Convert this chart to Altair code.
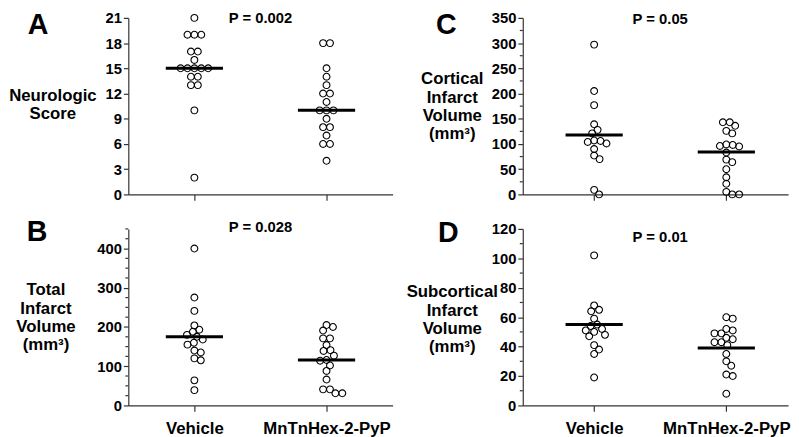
import altair as alt
import pandas as pd

FONT = "Liberation Sans"

# ---------------- data ----------------
groups = ["Vehicle", "MnTnHex-2-PyP"]
panel_letters = ["A", "B", "C", "D"]
p_texts = ["P = 0.002", "P = 0.028", "P = 0.05", "P = 0.01"]

neuro_vehicle = [21, 19, 19, 19, 17, 17, 16, 15, 15, 15, 15, 15, 14, 14, 13, 13, 10, 2]
neuro_mntn = [18, 18, 15, 14, 13, 12, 12, 11, 10, 10, 10, 9, 8, 8, 7, 6, 6, 4]

total_vehicle = [400, 275, 241, 204, 193, 188, 180, 175, 168, 160, 155, 140, 135, 120, 115, 64, 39]
total_mntn = [205, 200, 191, 171, 171, 154, 141, 139, 127, 116, 114, 102, 88, 66, 41, 41, 31, 31]

cortical_vehicle = [297, 205, 177, 139, 128, 121, 107, 106, 104, 101, 90, 77, 70, 9, 0]
cortical_mntn = [143, 143, 136, 126, 121, 99, 98, 96, 95, 83, 69, 64, 50, 34, 21, 5, 0, 0]

subcort_vehicle = [102, 68, 65, 64, 59, 55, 54, 52, 51, 50, 48, 47, 41, 38, 35, 19]
subcort_mntn = [60, 59, 52, 51, 49, 49, 46, 45, 43, 43, 41, 35, 30, 27, 21, 20, 8]

# central bar (median / mean) of each group
neuro_center = [15, 10]
total_center = [175, 116]
cortical_center = [118, 84]
subcort_center = [55, 39]

y_titles = [
    ["Neurologic", "Score"],
    ["Total", "Infarct", "Volume", "(mm³)"],
    ["Cortical", "Infarct", "Volume", "(mm³)"],
    ["Subcortical", "Infarct", "Volume", "(mm³)"],
]

# ---------------- helpers ----------------
PANEL_H = 179
PX_PER_X = 134.0  # pixels per x unit (category spacing)
AXIS_COLOR = "#333333"


def swarm(vals, ymax, dmin=6.5, row_gap=7.0):
    """Simple beeswarm: return x offsets in data units."""
    ppu = PANEL_H / ymax
    n = len(vals)
    idx = sorted(range(n), key=lambda k: -vals[k])
    offs = [0.0] * n
    placed = []
    i = 0
    while i < n:
        j = i
        while j < n and vals[idx[j]] == vals[idx[i]]:
            j += 1
        k = j - i
        ypx = vals[idx[i]] * ppu
        base = [(m - (k - 1) / 2) * row_gap for m in range(k)]
        chosen = 0.0
        found = False
        for step in range(0, 40):
            for sgn in ([1] if step == 0 else [1, -1]):
                sh = sgn * step * 0.5
                ok = all(((ypx - py) ** 2 + (b + sh - px) ** 2) ** 0.5 >= dmin
                         for b in base for (py, px) in placed)
                if ok:
                    chosen = sh
                    found = True
                    break
            if found:
                break
        for m in range(k):
            o = base[m] + chosen
            offs[idx[i + m]] = o / PX_PER_X
            placed.append((ypx, o))
        i = j
    return offs


def panel(letter, ptext, vv, vm, centers, ymax, major, minor, title, title_x, title_y,
          xdom, width, show_labels, letter_xy, p_dy):
    pos = [0.5, 1.5]
    rows = []
    for g, vals, p in zip(groups, [vv, vm], pos):
        for v, o in zip(vals, swarm(vals, ymax)):
            rows.append({"group": g, "value": v, "x": p + o})
    df = pd.DataFrame(rows)
    cdf = pd.DataFrame({"group": groups, "value": centers, "x": pos})
    pdf = pd.DataFrame({"t": [ptext], "x": [1.0], "value": [ymax]})
    ldf = pd.DataFrame({"t": [letter]})

    xs = alt.Scale(domain=xdom, nice=False, zero=False)
    ys = alt.Scale(domain=[0, ymax], nice=False, zero=True)

    major_vals = list(range(0, ymax + 1, major))

    yaxis = alt.Axis(
        values=major_vals,
        title=title, titleAngle=0, titleAlign="center", titleBaseline="middle",
        titleX=title_x, titleY=title_y,
        titleLineHeight=18.5,
    )
    lab0, lab1 = groups
    xaxis = alt.Axis(
        values=pos, labels=show_labels,
        labelExpr=f"datum.value < 1 ? '{lab0}' : '{lab1}'",
        labelFontSize=17, labelPadding=9, labelFlush=False, tickSize=6, title=None,
    )
    X = alt.X("x:Q", scale=xs, axis=xaxis)
    Y = alt.Y("value:Q", scale=ys, axis=yaxis)

    pts = alt.Chart(df).mark_point(
        shape="circle", filled=False, color="black", size=48, strokeWidth=1.1, opacity=1
    ).encode(x=X, y=Y)
    bars = alt.Chart(cdf).mark_tick(
        orient="horizontal", size=58, thickness=3, color="black", opacity=1
    ).encode(x=X, y=Y)
    ptxt = alt.Chart(pdf).mark_text(
        fontSize=15, fontWeight="bold", font=FONT, baseline="middle", align="center",
        dy=p_dy, color="black"
    ).encode(x=X, y=Y, text="t:N")
    let = alt.Chart(ldf).mark_text(
        fontSize=29, fontWeight="bold", font=FONT, align="left", baseline="alphabetic",
        color="black"
    ).encode(x=alt.value(letter_xy[0]), y=alt.value(letter_xy[1]), text="t:N")
    layers = [pts, bars, ptxt]
    if minor:
        minor_vals = [v for v in range(0, ymax + 1, minor) if v % major != 0]
        mdf = pd.DataFrame({"value": minor_vals, "x": [xdom[0]] * len(minor_vals)})
        mticks = alt.Chart(mdf).mark_tick(
            orient="horizontal", size=3, thickness=1.2, color=AXIS_COLOR, xOffset=-1.5, opacity=1
        ).encode(x=X, y=Y)
        layers.append(mticks)
    layers.append(let)
    return alt.layer(*layers).properties(width=width, height=PANEL_H)


XR = [-0.04, 1.967]
pA = panel(panel_letters[0], p_texts[0], neuro_vehicle, neuro_mntn, neuro_center, 21, 3, None,
           y_titles[0], -77, 79, [0, 2], 268, False, (-102, 16), 0)
pB = panel(panel_letters[1], p_texts[1], total_vehicle, total_mntn, total_center, 450, 100, 25,
           y_titles[1], -84, 62, [0, 2], 268, True, (-103, 12), -2)
pC = panel(panel_letters[2], p_texts[2], cortical_vehicle, cortical_mntn, cortical_center, 350, 50, 25,
           y_titles[2], -72, 62, XR, 269, False, (-88, 16), 1)
pD = panel(panel_letters[3], p_texts[3], subcort_vehicle, subcort_mntn, subcort_center, 120, 20, 10,
           y_titles[3], -72, 64, XR, 269, True, (-86, 13), 8)

chart = alt.concat(
    pA, pC, pB, pD, columns=2, spacing={"row": 35, "column": 132}, bounds="flush"
).properties(
    padding={"left": 0, "top": 0, "right": 0, "bottom": 0},
    background="white",
).configure(font=FONT).configure_view(stroke=None).configure_axis(
    grid=False, domainColor=AXIS_COLOR, tickColor=AXIS_COLOR, domainWidth=1.2, tickWidth=1.2,
    tickSize=5, labelFont=FONT, labelFontSize=15, labelFontWeight="bold", labelColor="black",
    labelPadding=2, titleFont=FONT, titleFontSize=17, titleFontWeight="bold", titleColor="black",
)

chart.save("out.html", embed_options={"renderer": "svg", "actions": False})
